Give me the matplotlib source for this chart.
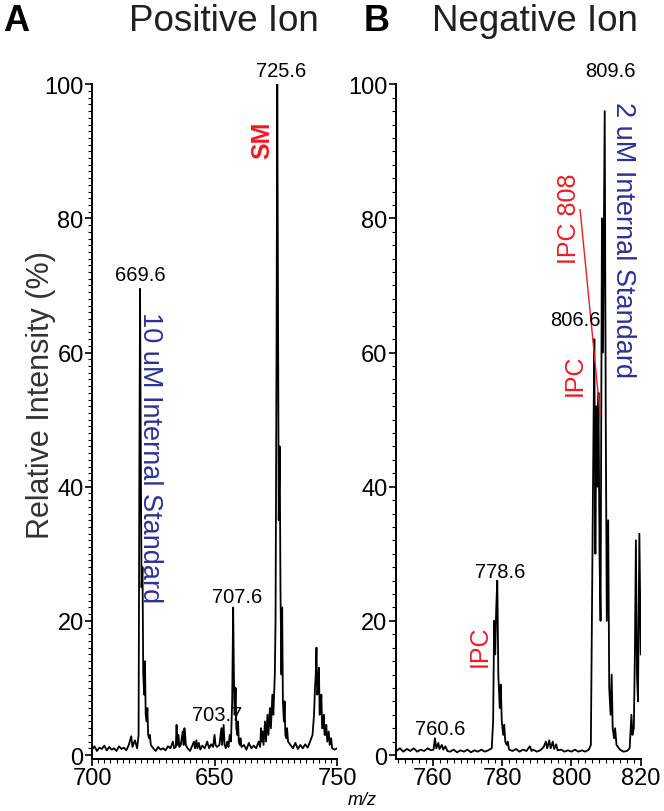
import matplotlib.pyplot as plt
from matplotlib.ticker import MultipleLocator, FixedLocator

# positive ion profile (m/z, relative intensity %)
pos_mz = [650.0, 651.0, 652.0, 653.0, 654.0, 655.0, 656.0, 657.0, 658.0, 659.0,
          660.0, 661.0, 662.0, 663.0, 664.0, 665.0, 666.0, 666.5, 667.5, 668.4,
          669.0, 669.3, 669.6, 669.9, 670.2, 670.6, 670.9, 671.3, 671.6, 671.9,
          672.3, 672.6, 672.9, 673.3, 673.6, 674.0, 675.0, 676.0, 677.0, 678.0,
          679.0, 680.0, 681.0, 682.0, 683.0, 683.5, 684.2, 684.5, 684.8, 685.3,
          685.6, 686.2, 686.6, 687.0, 687.4, 687.7, 688.0, 688.3, 689.0, 690.0,
          691.0, 691.6, 692.0, 692.6, 693.0, 693.6, 694.2, 695.0, 696.0, 697.0,
          697.8, 698.6, 699.4, 700.0, 700.4, 701.0, 702.0, 702.8, 703.1, 703.7,
          704.1, 704.6, 705.2, 705.7, 706.2, 706.7, 707.2, 707.6, 707.9, 708.2,
          708.6, 708.9, 709.3, 709.6, 709.9, 710.3, 710.6, 711.0, 712.0, 713.0,
          714.0, 715.0, 716.0, 717.0, 718.0, 718.6, 719.0, 719.3, 719.6, 720.0,
          720.6, 721.0, 721.6, 722.0, 722.6, 723.0, 723.6, 724.0, 724.6, 724.9,
          725.3, 725.6, 725.9, 726.2, 726.6, 726.9, 727.3, 727.6, 727.9, 728.3,
          728.6, 728.9, 729.3, 729.6, 730.0, 731.0, 732.0, 733.0, 734.0, 735.0,
          736.0, 737.0, 738.0, 739.0, 740.0, 740.6, 741.0, 741.3, 741.6, 741.9,
          742.3, 742.6, 742.9, 743.3, 743.6, 743.9, 744.3, 744.6, 744.9, 745.3,
          745.6, 746.0, 746.6, 747.0, 747.6, 748.0, 749.0, 750.0]
pos_int = [0.8, 1.3, 0.6, 1.1, 0.9, 1.4, 0.7, 1.2, 0.8, 1.0,
           0.6, 1.3, 0.9, 1.1, 0.7, 1.5, 2.8, 1.2, 2.2, 1.0,
           3.0, 40.0, 69.5, 45.0, 25.0, 28.0, 12.0, 9.0, 14.0, 6.0,
           5.0, 7.0, 3.0, 2.5, 3.0, 1.5, 1.0, 0.6, 1.2, 0.8,
           1.0, 0.7, 1.3, 1.0, 2.0, 1.0, 1.2, 4.5, 1.5, 3.0,
           1.2, 1.5, 2.5, 3.5, 1.5, 4.0, 3.0, 1.5, 1.0, 0.6,
           1.5, 2.0, 1.0, 2.2, 1.0, 1.8, 0.8, 1.4, 1.0, 2.0,
           1.0, 1.6, 1.2, 3.0, 1.5, 1.2, 1.5, 4.0, 1.5, 4.5,
           1.5, 1.0, 2.0, 1.2, 3.0, 2.0, 8.0, 22.0, 12.0, 6.0,
           10.0, 4.0, 3.0, 5.0, 2.0, 1.5, 2.5, 1.2, 1.5, 0.8,
           1.8, 1.0, 1.4, 1.0, 2.0, 1.2, 4.0, 2.0, 3.5, 1.5,
           5.0, 2.0, 6.0, 3.0, 7.0, 4.0, 9.0, 6.0, 12.0, 20.0,
           60.0, 100.0, 65.0, 35.0, 46.0, 25.0, 12.0, 22.0, 8.0, 5.0,
           8.0, 3.0, 2.5, 4.0, 2.0, 1.5, 1.0, 1.8, 0.9, 1.5,
           1.0, 1.6, 1.1, 2.0, 3.0, 6.0, 10.0, 12.0, 16.0, 9.0,
           10.0, 13.0, 6.0, 7.0, 9.0, 4.0, 4.0, 6.0, 3.0, 3.0,
           4.5, 2.0, 3.5, 1.5, 2.5, 1.0, 0.8, 1.0]

# negative ion profile
neg_mz = [749.5, 750.5, 751.5, 752.5, 753.5, 754.5, 755.5, 756.5, 757.5, 758.5,
          759.5, 760.2, 760.6, 761.0, 761.6, 761.9, 762.6, 763.0, 763.6, 764.2,
          765.0, 766.0, 767.0, 768.0, 769.0, 770.0, 771.0, 772.0, 773.0, 774.0,
          775.0, 776.0, 777.0, 777.4, 777.7, 778.0, 778.3, 778.6, 778.9, 779.3,
          779.6, 779.9, 780.3, 780.6, 780.9, 781.3, 781.6, 782.0, 783.0, 784.0,
          785.0, 786.0, 787.0, 788.0, 788.5, 789.0, 790.0, 791.0, 792.0, 792.6,
          793.0, 793.6, 794.0, 794.6, 795.0, 795.6, 796.0, 797.0, 798.0, 799.0,
          800.0, 801.0, 802.0, 803.0, 804.0, 805.0, 805.6, 805.9, 806.3, 806.6,
          806.9, 807.2, 807.5, 807.8, 808.1, 808.4, 808.8, 809.1, 809.6, 809.9,
          810.2, 810.6, 810.9, 811.3, 811.6, 811.9, 812.3, 812.6, 813.0, 814.0,
          815.0, 816.0, 816.8, 817.3, 817.6, 818.0, 818.3, 818.6, 818.9, 819.2,
          819.6, 820.0]
neg_int = [0.6, 1.0, 0.5, 0.9, 0.6, 1.0, 0.5, 0.8, 0.6, 1.0,
           0.7, 0.8, 2.5, 1.0, 1.8, 0.9, 1.5, 0.8, 1.3, 0.6,
           0.5, 0.8, 0.4, 0.7, 0.5, 0.8, 0.4, 0.7, 0.5, 0.8,
           0.5, 0.7, 1.0, 5.0, 20.0, 15.0, 22.0, 26.0, 12.0, 7.0,
           10.5, 5.0, 3.0, 4.5, 2.0, 1.5, 2.0, 0.8, 0.6, 0.9,
           0.5, 0.8, 0.6, 1.3, 0.6, 0.8, 0.5, 0.7, 1.2, 2.0,
           1.0, 2.2, 1.0, 2.0, 0.9, 1.6, 0.7, 0.8, 0.5, 0.7,
           0.5, 0.8, 0.5, 0.7, 0.5, 0.8, 1.5, 20.0, 45.0, 62.0,
           30.0, 52.0, 40.0, 54.0, 30.0, 20.0, 80.0, 60.0, 96.0, 50.0,
           20.0, 35.0, 10.0, 6.0, 12.0, 4.0, 2.5, 4.0, 1.5, 0.8,
           0.5, 0.6, 1.0, 6.0, 3.0, 4.0, 15.0, 32.0, 12.0, 8.0,
           33.0, 15.0]

y_ticks = [0, 20, 40, 60, 80, 100]
pos_xticks = [650, 700, 750]
pos_xlabels = ["700", "650", "750"]
neg_xticks = [760, 780, 800, 820]

NARROW = ["Liberation Sans Narrow", "Liberation Sans", "DejaVu Sans"]
SANS = ["Liberation Sans", "DejaVu Sans"]
BLUE = "#2E3192"
RED = "#ED1C24"

fig = plt.figure(figsize=(6.64, 8.12), dpi=100)
ax1 = fig.add_axes([0.1386, 0.064, 0.369, 0.831])
ax2 = fig.add_axes([0.596, 0.064, 0.369, 0.831])

for ax in (ax1, ax2):
    for s in ("top", "right"):
        ax.spines[s].set_visible(False)
    ax.spines["left"].set_linewidth(1.4)
    ax.spines["bottom"].set_linewidth(1.4)
    ax.set_ylim(-0.6, 100)
    ax.yaxis.set_major_locator(FixedLocator(y_ticks))
    ax.tick_params(which="major", direction="out", length=5, width=1.2, pad=1)
    ax.tick_params(which="minor", direction="out", length=3, width=0.8)

ax1.plot(pos_mz, pos_int, color="black", lw=1.3)
ax1.set_xlim(650, 750)
ax1.set_xticks(pos_xticks)
ax1.set_xticklabels(pos_xlabels, family=NARROW, fontsize=17)
ax1.xaxis.set_minor_locator(MultipleLocator(2.5))
ax1.yaxis.set_minor_locator(MultipleLocator(1))
ax1.set_yticklabels([str(v) for v in y_ticks], family=NARROW, fontsize=17)

ax2.plot(neg_mz, neg_int, color="black", lw=1.3)
ax2.set_xlim(749.3, 820)
ax2.set_xticks(neg_xticks)
ax2.set_xticklabels([str(v) for v in neg_xticks], family=NARROW, fontsize=17)
ax2.xaxis.set_minor_locator(MultipleLocator(2))
ax2.yaxis.set_minor_locator(MultipleLocator(2))
ax2.set_yticklabels([str(v) for v in y_ticks], family=NARROW, fontsize=17)

# peak labels
pk = dict(family=NARROW, fontsize=14.5, ha="center", va="center", clip_on=False)
ax1.text(669.6, 71.6, "669.6", **pk)
ax1.text(727.1, 102.0, "725.6", **pk)
ax1.text(709.2, 23.6, "707.6", **pk)
ax1.text(701.2, 6.0, "703.7", **pk)
ax2.text(811.2, 102.0, "809.6", **pk)
ax2.text(801.2, 64.9, "806.6", **pk)
ax2.text(779.4, 27.3, "778.6", **pk)
ax2.text(762.0, 4.0, "760.6", **pk)

# annotations
ax1.text(673.6, 44.5, "10 uM Internal Standard", family=SANS, fontsize=19.5,
         color=BLUE, rotation=-90, ha="center", va="center")
ax1.text(719.5, 91.8, "SM", family=SANS, fontsize=18, fontweight="bold",
         color=RED, rotation=90, ha="center", va="center")
ax2.text(815.0, 76.9, "2 uM Internal Standard", family=SANS, fontsize=19.5,
         color=BLUE, rotation=-90, ha="center", va="center", clip_on=False)
ax2.text(799.4, 80.1, "IPC 808", family=SANS, fontsize=18,
         color=RED, rotation=90, ha="center", va="center")
ax2.plot([802.5, 808.3], [81.3, 50.7], color=RED, lw=1.0)
ax2.text(800.9, 56.7, "IPC", family=SANS, fontsize=18,
         color=RED, rotation=90, ha="center", va="center")
ax2.text(773.5, 16.4, "IPC", family=SANS, fontsize=18,
         color=RED, rotation=90, ha="center", va="center")

# titles and axis labels
fig.text(0.004, 0.973, "A", family=SANS, fontsize=26, fontweight="bold", va="center")
fig.text(0.337, 0.973, "Positive Ion", family=SANS, fontsize=26.5, color="#231F20",
         ha="center", va="center")
fig.text(0.548, 0.973, "B", family=SANS, fontsize=26, fontweight="bold", va="center")
fig.text(0.806, 0.973, "Negative Ion", family=SANS, fontsize=26.5, color="#231F20",
         ha="center", va="center")
fig.text(0.062, 0.513, "Relative Intensity (%)", family=SANS, fontsize=22,
         color="#333333", rotation=90, ha="center", va="center")
fig.text(0.545, 0.014, "m/z", family=NARROW, fontsize=13, style="italic",
         ha="center", va="center")

fig.savefig("out.png", dpi=100)
